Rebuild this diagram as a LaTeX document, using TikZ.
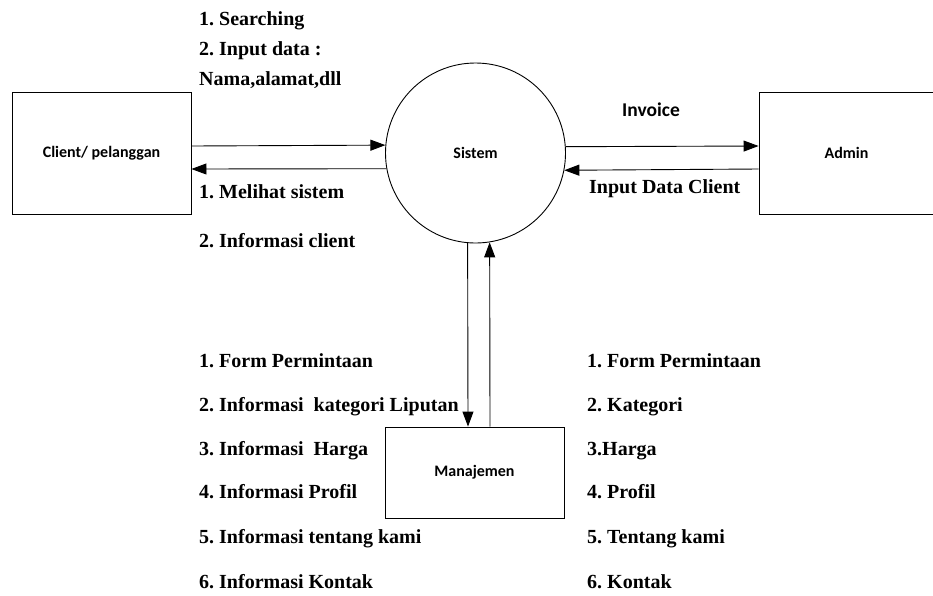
\documentclass[tikz,border=0pt]{standalone}
\usepackage{fontspec}
\setmainfont{Liberation Serif}
\newfontfamily\labfont{Carlito}
\usetikzlibrary{arrows.meta}
\frenchspacing
\begin{document}
\begin{tikzpicture}[x=1pt,y=-1pt,
  entity/.style={draw=black,line width=0.9pt,rectangle,inner sep=0pt,
    font=\labfont\bfseries\fontsize{16}{19}\selectfont},
  proc/.style={draw=black,line width=0.9pt,circle,inner sep=0pt,minimum size=180pt,
    font=\labfont\bfseries\fontsize{16}{19}\selectfont},
  flow/.style={line width=0.9pt,-{Triangle[length=15pt,width=11pt]}},
  txt/.style={anchor=base west,inner sep=0pt,font=\frenchspacing\bfseries\fontsize{20}{23}\selectfont},
  sanstxt/.style={anchor=base west,inner sep=0pt,font=\labfont\bfseries\fontsize{19.5}{23}\selectfont}]
\useasboundingbox (0,0) rectangle (933,595);

% external entities and the process
\node[entity,minimum width=179pt,minimum height=122pt] (cl) at (101.5,153) {Client/ pelanggan};
\node[entity,minimum width=175pt,minimum height=122pt] (ad) at (846.5,153) {Admin};
\node[entity,minimum width=179pt,minimum height=91pt] (mj) at (474.5,472.5) {Manajemen};
\node[proc] (sys) at (475.5,153) {Sistem};

% data flows
\draw[flow] ([yshift=7pt]cl.east) -- (sys.175.54);
\draw[flow] (sys.190.24) -- ([yshift=-16pt]cl.east);
\draw[flow] (sys.4.46) -- ([yshift=7pt]ad.west);
\draw[flow] ([yshift=-16pt]ad.west) -- (sys.349.76);
\draw[flow] (sys.265.22) -- ([xshift=-6.5pt]mj.north);
\draw[flow] ([xshift=15.5pt]mj.north) -- (sys.279.27);

% flow labels: client side
\node[txt] (s1) at (199,25) {1. Searching};
\node[txt] (s2) at (199,55) {2. Input data :};
\node[txt] (s3) at (199,85) {Nama,alamat,dll};
\node[txt] (m1) at (199,198) {1. Melihat sistem};
\node[txt] (m2) at (199,247) {2. Informasi client};

% flow labels: admin side
\node[sanstxt] (inv) at (622,116.5) {Invoice};
\node[txt] (idc) at (589,193) {Input Data Client};

% flow labels: management, outgoing
\node[txt] (a1) at (199,367.5) {1. Form Permintaan};
\node[txt] (a2) at (199,411.5) {2. Informasi\ \ kategori Liputan};
\node[txt] (a3) at (199,455) {3. Informasi\ \ Harga};
\node[txt] (a4) at (199,498) {4. Informasi Profil};
\node[txt] (a5) at (199,543) {5. Informasi tentang kami};
\node[txt] (a6) at (199,588) {6. Informasi Kontak};

% flow labels: management, incoming
\node[txt] (b1) at (587,367.5) {1. Form Permintaan};
\node[txt] (b2) at (587,411.5) {2. Kategori};
\node[txt] (b3) at (587,455) {3.Harga};
\node[txt] (b4) at (587,498) {4. Profil};
\node[txt] (b5) at (587,543) {5. Tentang kami};
\node[txt] (b6) at (587,588) {6. Kontak};
\end{tikzpicture}
\end{document}
